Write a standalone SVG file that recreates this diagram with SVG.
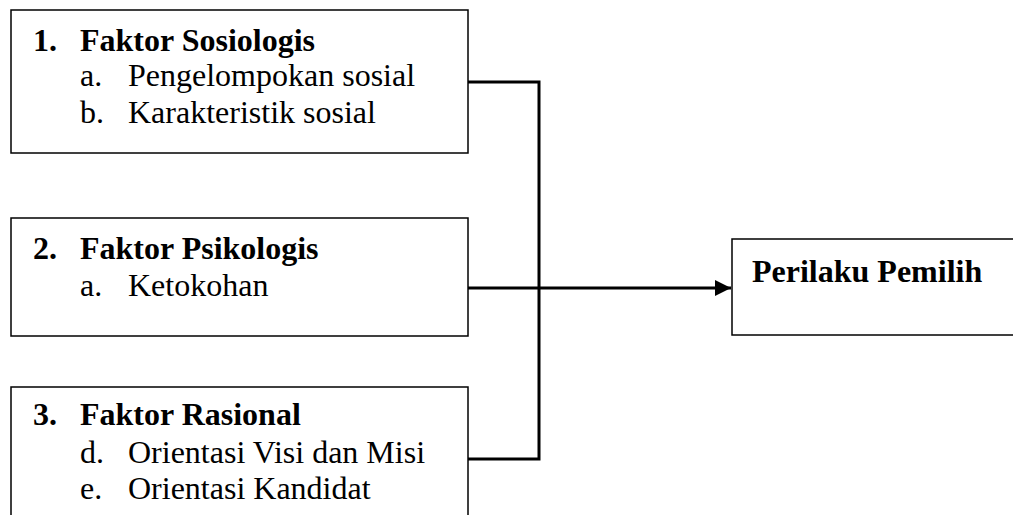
<svg xmlns="http://www.w3.org/2000/svg" width="1013" height="515" viewBox="0 0 1013 515">
<defs>
<style>
.box{fill:#fff;stroke:#000;stroke-width:1.5}
.conn{fill:none;stroke:#000;stroke-width:3}
.t{font-family:"Liberation Serif","Times New Roman",serif;font-size:32px;fill:#000}
.b{font-weight:bold}
</style>
<marker id="arr" markerUnits="userSpaceOnUse" markerWidth="17" markerHeight="16" refX="16" refY="8" orient="auto">
<path d="M0,0 L16,8 L0,16 Z" fill="#000"/>
</marker>
</defs>
<rect width="1013" height="515" fill="#fff"/>
<g id="connectors">
<path class="conn" d="M468,82 H539 V459 H468"/>
<path class="conn" d="M468,288 H731" marker-end="url(#arr)"/>
</g>
<g id="node1">
<rect class="box" x="11" y="10" width="457" height="143"/>
<text class="t b" x="33" y="51">1.</text>
<text class="t b" x="80" y="51">Faktor Sosiologis</text>
<text class="t" x="80" y="86">a.</text>
<text class="t" x="128" y="86">Pengelompokan sosial</text>
<text class="t" x="80" y="123">b.</text>
<text class="t" x="128" y="123">Karakteristik sosial</text>
</g>
<g id="node2">
<rect class="box" x="11" y="218" width="457" height="118"/>
<text class="t b" x="33" y="259">2.</text>
<text class="t b" x="80" y="259">Faktor Psikologis</text>
<text class="t" x="80" y="296">a.</text>
<text class="t" x="128" y="296">Ketokohan</text>
</g>
<g id="node3">
<rect class="box" x="11" y="387" width="457" height="150"/>
<text class="t b" x="33" y="425">3.</text>
<text class="t b" x="80" y="425">Faktor Rasional</text>
<text class="t" x="80" y="463">d.</text>
<text class="t" x="128" y="463">Orientasi Visi dan Misi</text>
<text class="t" x="80" y="499">e.</text>
<text class="t" x="128" y="499">Orientasi Kandidat</text>
</g>
<g id="node4">
<rect class="box" x="732" y="239" width="300" height="96"/>
<text class="t b" x="752" y="282">Perilaku Pemilih</text>
</g>
</svg>
